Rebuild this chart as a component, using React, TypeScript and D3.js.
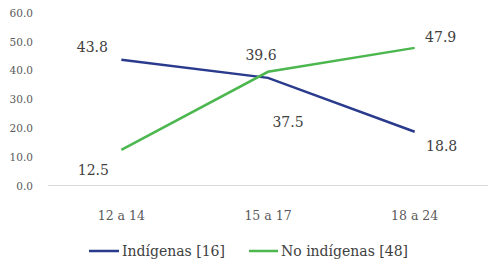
import React from "react";
import * as d3 from "d3";

const categories = ["12 a 14", "15 a 17", "18 a 24"];
const indigenas = [43.8, 37.5, 18.8];
const noIndigenas = [12.5, 39.6, 47.9];
const yTicks = [0, 10, 20, 30, 40, 50, 60];
const seriesNames = ["Indígenas [16]", "No indígenas [48]"];

// label placement relative to each point (layout only)
const labelOffsets = [
  [[-29, -13], [20, 44], [27, 14]],
  [[-28, 20], [-7, -17], [26, -11]],
];

const W = 489;
const H = 267;
const FONT = "'DejaVu Serif', serif";

export default function App() {
  const x = d3.scalePoint<string>().domain(categories).range([48, 488]).padding(0.5);
  const y = d3.scaleLinear().domain([0, 60]).range([186, 13]);
  const line = d3
    .line<number>()
    .x((_, i) => x(categories[i]) as number)
    .y((d) => y(d));
  const series = [
    { name: seriesNames[0], values: indigenas, color: "#2a3a8c" },
    { name: seriesNames[1], values: noIndigenas, color: "#4cb74f" },
  ];
  const legend = [
    { x1: 89, x2: 119, tx: 122 },
    { x1: 249, x2: 278, tx: 281 },
  ];
  return (
    <svg
      width={W}
      height={H}
      style={{ position: "absolute", left: 0, top: 0, background: "#fff" }}
      fontFamily={FONT}
    >
      <line x1={48} x2={488} y1={y(0) - 0.5} y2={y(0) - 0.5} stroke="#d9d9d9" strokeWidth={1} />
      {yTicks.map((t) => (
        <text
          key={t}
          x={33}
          y={y(t)}
          dy="0.35em"
          textAnchor="end"
          fontSize={10.5}
          fill="#595959"
        >
          {t.toFixed(1)}
        </text>
      ))}
      {categories.map((c) => (
        <text
          key={c}
          x={x(c) as number}
          y={216}
          dy="0.35em"
          textAnchor="middle"
          fontSize={12.5}
          fill="#595959"
        >
          {c}
        </text>
      ))}
      {series.map((s, si) => (
        <g key={s.name}>
          <path d={line(s.values) || ""} fill="none" stroke={s.color} strokeWidth={2.5} />
          {s.values.map((v, i) => (
            <text
              key={i}
              x={(x(categories[i]) as number) + labelOffsets[si][i][0]}
              y={y(v) + labelOffsets[si][i][1]}
              dy="0.35em"
              textAnchor="middle"
              fontSize={14}
              fill="#404040"
            >
              {v.toFixed(1)}
            </text>
          ))}
        </g>
      ))}
      {series.map((s, si) => (
        <g key={"lg" + si}>
          <line
            x1={legend[si].x1}
            x2={legend[si].x2}
            y1={251}
            y2={251}
            stroke={s.color}
            strokeWidth={2.5}
          />
          <text x={legend[si].tx} y={251} dy="0.35em" fontSize={14} fill="#404040">
            {s.name}
          </text>
        </g>
      ))}
    </svg>
  );
}
